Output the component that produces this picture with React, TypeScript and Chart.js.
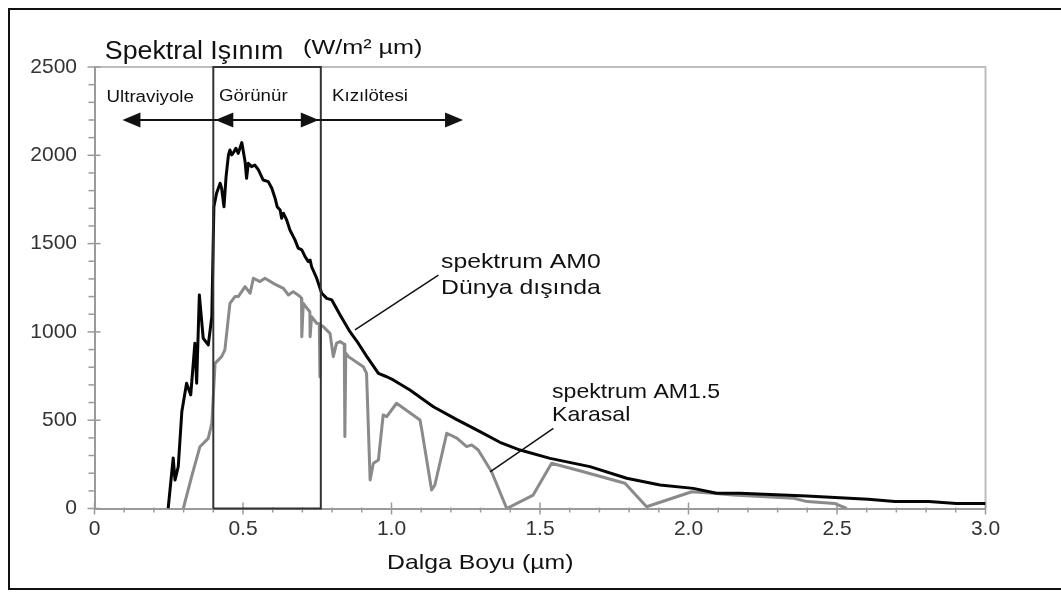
import { useEffect, useRef } from "react";
import { Chart, registerables } from "chart.js";

Chart.register(...registerables);

// ---- data ----
const am0X = [0.248, 0.265, 0.271, 0.282, 0.294, 0.310, 0.324, 0.338, 0.344, 0.353, 0.366, 0.383, 0.395, 0.402, 0.411, 0.423, 0.428, 0.436, 0.443, 0.451, 0.456, 0.462, 0.470, 0.476, 0.484, 0.496, 0.507, 0.512, 0.518, 0.529, 0.540, 0.552, 0.568, 0.585, 0.597, 0.608, 0.615, 0.625, 0.630, 0.636, 0.647, 0.658, 0.675, 0.686, 0.698, 0.709, 0.720, 0.726, 0.731, 0.748, 0.765, 0.782, 0.799, 0.827, 0.860, 0.888, 0.917, 0.956, 0.984, 1.006, 1.062, 1.141, 1.220, 1.298, 1.365, 1.433, 1.534, 1.668, 1.792, 1.904, 2.016, 2.095, 2.173, 2.398, 2.605, 2.695, 2.809, 2.902, 3.0];
const am0Y = [0, 286, 161, 237, 548, 709, 643, 936, 709, 1209, 964, 926, 1086, 1709, 1785, 1842, 1813, 1709, 1879, 2002, 2030, 2002, 2021, 2040, 2011, 2072, 1964, 1870, 1955, 1936, 1945, 1917, 1860, 1851, 1813, 1757, 1709, 1690, 1643, 1672, 1634, 1577, 1521, 1474, 1464, 1426, 1398, 1407, 1369, 1304, 1219, 1190, 1181, 1096, 1001, 936, 860, 765, 746, 728, 671, 576, 503, 435, 375, 331, 284, 237, 171, 133, 114, 86, 86, 71, 52, 39, 39, 29, 29];

const am15X = [0.299, 0.327, 0.355, 0.383, 0.395, 0.406, 0.428, 0.439, 0.456, 0.473, 0.484, 0.492, 0.507, 0.524, 0.535, 0.557, 0.574, 0.602, 0.636, 0.653, 0.669, 0.692, 0.697, 0.698, 0.703, 0.720, 0.725, 0.726, 0.731, 0.748, 0.757, 0.759, 0.761, 0.770, 0.793, 0.804, 0.815, 0.827, 0.841, 0.843, 0.846, 0.855, 0.905, 0.916, 0.928, 0.939, 0.956, 0.972, 0.984, 1.017, 1.096, 1.102, 1.135, 1.146, 1.186, 1.220, 1.253, 1.270, 1.292, 1.337, 1.388, 1.477, 1.539, 1.646, 1.786, 1.859, 2.011, 2.084, 2.149, 2.354, 2.400, 2.491, 2.533];
const am15Y = [0, 180, 350, 397, 482, 822, 860, 898, 1162, 1200, 1200, 1219, 1256, 1219, 1304, 1285, 1304, 1275, 1247, 1209, 1228, 1200, 1190, 973, 1162, 1124, 1115, 973, 1086, 1049, 1045, 746, 1039, 1030, 992, 860, 936, 945, 930, 407, 880, 860, 803, 765, 161, 256, 275, 530, 520, 596, 501, 445, 105, 133, 426, 398, 350, 360, 331, 208, 0, 76, 256, 208, 143, 10, 95, 86, 76, 58, 39, 29, 0];

const boxX = [0.4, 0.4, 0.762, 0.762, 0.4];
const boxY = [0, 2500, 2500, 0, 0];

const pointerAM0X = [0.877, 1.158];
const pointerAM0Y = [1011, 1322];
const pointerAM15X = [1.332, 1.545];
const pointerAM15Y = [208, 454];

const regionArrowY = 2200;
const regionArrowX = [0.094, 0.4, 0.762, 1.241];
const regionLabels = ["Ultraviyole", "Görünür", "Kızılötesi"];

const xMin = 0, xMax = 3, xStep = 0.5, xMinor = 0.1;
const yMin = 0, yMax = 2500, yStep = 500, yMinor = 100;

const titleText = "Spektral Işınım";
const unitText = "(W/m² µm)";
const xTitleText = "Dalga Boyu (µm)";
const am0Label = ["spektrum AM0", "Dünya dışında"];
const am15Label = ["spektrum AM1.5", "Karasal"];

const FONT = "'Liberation Sans', Arial, Helvetica, sans-serif";

const zip = (xs: number[], ys: number[]) => xs.map((x, i) => ({ x, y: ys[i] }));

function stretchText(ctx: CanvasRenderingContext2D, text: string, x: number, y: number, size: number, sx: number) {
  ctx.save();
  ctx.translate(x, y);
  ctx.scale(sx, 1);
  ctx.font = `${size}px ${FONT}`;
  ctx.textAlign = "left";
  ctx.textBaseline = "alphabetic";
  ctx.fillStyle = "#111";
  ctx.fillText(text, 0, 0);
  ctx.restore();
}

const decorPlugin = {
  id: "decor",
  beforeDatasetsDraw(chart: any) {
    const { ctx, chartArea: a, scales } = chart;
    const xs = scales.x, ys = scales.y;
    ctx.save();
    ctx.strokeStyle = "#bdbdbd";
    ctx.lineWidth = 2;
    ctx.beginPath();
    ctx.moveTo(a.left, a.top);
    ctx.lineTo(a.right, a.top);
    ctx.lineTo(a.right, a.bottom);
    ctx.stroke();

    ctx.strokeStyle = "#9a9a9a";
    ctx.lineWidth = 1.5;
    const nx = Math.round((xMax - xMin) / xMinor);
    for (let i = 0; i <= nx; i++) {
      const v = xMin + i * xMinor;
      const px = xs.getPixelForValue(v);
      const major = i % Math.round(xStep / xMinor) === 0;
      ctx.beginPath();
      ctx.moveTo(px, a.bottom + (major ? -6 : -1));
      ctx.lineTo(px, a.bottom + (major ? 6 : 4));
      ctx.stroke();
    }
    const ny = Math.round((yMax - yMin) / yMinor);
    for (let i = 0; i <= ny; i++) {
      const v = yMin + i * yMinor;
      const py = ys.getPixelForValue(v);
      const major = i % Math.round(yStep / yMinor) === 0;
      ctx.beginPath();
      ctx.moveTo(a.left - (major ? 7 : 6), py);
      ctx.lineTo(a.left + (major ? 6 : 0), py);
      ctx.stroke();
    }
    ctx.restore();
  },
  afterDatasetsDraw(chart: any) {
    const { ctx, scales } = chart;
    const xs = scales.x, ys = scales.y;
    ctx.save();
    const ay = ys.getPixelForValue(regionArrowY);
    const [t0, t1, t2, t3] = regionArrowX.map((v) => xs.getPixelForValue(v));
    ctx.strokeStyle = "#111";
    ctx.fillStyle = "#111";
    ctx.lineWidth = 2;
    ctx.beginPath();
    ctx.moveTo(t0 + 4, ay);
    ctx.lineTo(t3 - 4, ay);
    ctx.stroke();
    const head = (tip: number, dir: number) => {
      ctx.beginPath();
      ctx.moveTo(tip, ay);
      ctx.lineTo(tip - dir * 18, ay - 7.5);
      ctx.lineTo(tip - dir * 18, ay + 7.5);
      ctx.closePath();
      ctx.fill();
    };
    head(t0, -1);
    head(t1 + 2, -1);
    head(t2 - 2, 1);
    head(t3, 1);
    ctx.restore();

    stretchText(ctx, titleText, 104.8, 59, 25, 1.07);
    stretchText(ctx, unitText, 303, 54, 21, 1.2);
    stretchText(ctx, regionLabels[0], 106.5, 102, 16, 1.17);
    stretchText(ctx, regionLabels[1], 219, 101, 16, 1.17);
    stretchText(ctx, regionLabels[2], 332, 101, 16, 1.17);
    stretchText(ctx, am0Label[0], 441, 268, 21, 1.18);
    stretchText(ctx, am0Label[1], 441, 294, 21, 1.18);
    stretchText(ctx, am15Label[0], 552, 398, 21, 1.1);
    stretchText(ctx, am15Label[1], 552, 421, 21, 1.1);
    stretchText(ctx, xTitleText, 387, 569, 21, 1.18);
  },
};

export default function App() {
  const ref = useRef<HTMLCanvasElement | null>(null);
  useEffect(() => {
    if (!ref.current) return;
    const chart = new Chart(ref.current, {
      type: "line",
      data: {
        datasets: [
          {
            label: "box",
            data: zip(boxX, boxY),
            borderColor: "#333",
            borderWidth: 2,
            pointRadius: 0,
            tension: 0,
            clip: false as any,
          },
          {
            label: "pointerAM0",
            data: zip(pointerAM0X, pointerAM0Y),
            borderColor: "#111",
            borderWidth: 1.5,
            pointRadius: 0,
          },
          {
            label: "pointerAM15",
            data: zip(pointerAM15X, pointerAM15Y),
            borderColor: "#111",
            borderWidth: 1.5,
            pointRadius: 0,
          },
          {
            label: "AM0",
            data: zip(am0X, am0Y),
            borderColor: "#050505",
            borderWidth: 3,
            pointRadius: 0,
            tension: 0,
            borderJoinStyle: "round",
          },
          {
            label: "AM1.5",
            data: zip(am15X, am15Y),
            borderColor: "#8a8a8a",
            borderWidth: 3,
            pointRadius: 0,
            tension: 0,
            borderJoinStyle: "round",
          },
        ],
      },
      options: {
        animation: false,
        responsive: true,
        maintainAspectRatio: false,
        layout: { padding: { left: 0, top: 67, right: 75.5, bottom: 0 } },
        plugins: { legend: { display: false }, tooltip: { enabled: false }, title: { display: false } },
        scales: {
          x: {
            type: "linear",
            min: xMin,
            max: xMax,
            grid: { display: false, drawTicks: false },
            border: { display: true, color: "#9a9a9a", width: 2 },
            ticks: {
              stepSize: xStep,
              padding: 8,
              color: "#333",
              font: { family: FONT, size: 21 },
              callback: (v: any) => (Number(v) === 0 ? "0" : Number(v).toFixed(1)),
            },
            afterFit: (s: any) => {
              s.height = 83.5;
            },
          },
          y: {
            type: "linear",
            min: yMin,
            max: yMax,
            grid: { display: false, drawTicks: false },
            border: { display: true, color: "#9a9a9a", width: 2 },
            ticks: {
              stepSize: yStep,
              padding: 17.5,
              color: "#333",
              font: { family: FONT, size: 21 },
              callback: (v: any) => String(Math.round(Number(v))),
            },
            afterFit: (s: any) => {
              s.width = 94.5;
            },
          },
        },
      },
      plugins: [decorPlugin],
    });
    return () => chart.destroy();
  }, []);

  return (
    <>
      <div
        style={{
          position: "fixed",
          left: 0,
          top: 0,
          width: 1061,
          height: 592,
          background: "#fff",
        }}
      >
        <canvas ref={ref} />
      </div>
      <div
        style={{
          position: "fixed",
          left: 8,
          top: 8,
          width: 1053,
          height: 582,
          boxSizing: "border-box",
          borderLeft: "2px solid #111",
          borderTop: "2px solid #111",
          borderBottom: "2px solid #111",
          pointerEvents: "none",
        }}
      />
    </>
  );
}
